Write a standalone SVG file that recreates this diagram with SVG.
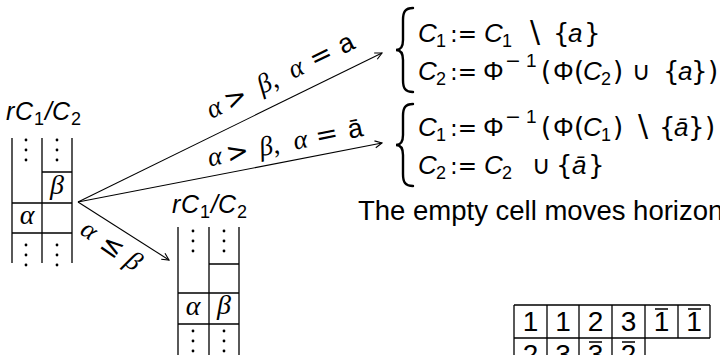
<svg xmlns="http://www.w3.org/2000/svg" width="720" height="355" viewBox="0 0 720 355">
<defs>
<style>
.ln{stroke:#000;stroke-width:1.3;fill:none}
.ar{stroke:#000;stroke-width:1.1;fill:none}
.br{stroke:#000;stroke-width:2.4;fill:none;stroke-linecap:round}
.dot{fill:#000}
text{fill:#000}
.s{font-family:"Liberation Sans",Arial,sans-serif}
.i{font-style:italic}
.n{font-style:normal}
.g{font-family:"Liberation Serif","DejaVu Serif",serif;font-style:italic}
.o{font-family:"DejaVu Sans",sans-serif;font-style:normal}
.as{font-family:"DejaVu Sans",sans-serif;font-style:normal;font-size:23px}
</style>
<marker id="ah" markerWidth="10" markerHeight="10" refX="0" refY="0" viewBox="-9 -5 10 10" orient="auto" markerUnits="userSpaceOnUse"><path d="M-7,-3.5 L0,0 L-7,3.5" fill="none" stroke="#000" stroke-width="1.1"/></marker>
</defs>
<rect width="720" height="355" fill="#fff"/>

<g id="tableau-left">
<text class="s i" font-size="25" y="120"><tspan x="6">r</tspan><tspan x="15">C</tspan><tspan class="n" x="34" y="125" font-size="18">1</tspan><tspan x="45" y="120">/</tspan><tspan x="52">C</tspan><tspan class="n" x="71" y="125" font-size="18">2</tspan></text>
<path class="ln" d="M12,138V263M42,138V263M72,138V263M42,172H72M12,203H72M12,233H72"/>
<g class="dot"><circle cx="26" cy="140" r="1.4"/><circle cx="26" cy="150" r="1.4"/><circle cx="26" cy="160" r="1.4"/><circle cx="57" cy="140" r="1.4"/><circle cx="57" cy="150" r="1.4"/><circle cx="57" cy="160" r="1.4"/><circle cx="26" cy="245" r="1.4"/><circle cx="26" cy="255" r="1.4"/><circle cx="26" cy="265" r="1.4"/><circle cx="57" cy="245" r="1.4"/><circle cx="57" cy="255" r="1.4"/><circle cx="57" cy="265" r="1.4"/></g>
<text class="g" font-size="28" text-anchor="middle"><tspan x="57" y="194">β</tspan><tspan x="27" y="224">α</tspan></text>
</g>

<g id="tableau-lower">
<text class="s i" font-size="25" y="213"><tspan x="172">r</tspan><tspan x="181">C</tspan><tspan class="n" x="200" y="218" font-size="18">1</tspan><tspan x="211" y="213">/</tspan><tspan x="218">C</tspan><tspan class="n" x="237" y="218" font-size="18">2</tspan></text>
<path class="ln" d="M178,227V355M209,227V355M239,227V355M209,264H239M178,293H239M178,324H239"/>
<g class="dot"><circle cx="193" cy="231" r="1.4"/><circle cx="193" cy="241" r="1.4"/><circle cx="193" cy="251" r="1.4"/><circle cx="224" cy="231" r="1.4"/><circle cx="224" cy="241" r="1.4"/><circle cx="224" cy="251" r="1.4"/><circle cx="193" cy="331" r="1.4"/><circle cx="193" cy="341" r="1.4"/><circle cx="193" cy="351" r="1.4"/><circle cx="224" cy="331" r="1.4"/><circle cx="224" cy="341" r="1.4"/><circle cx="224" cy="351" r="1.4"/></g>
<text class="g" font-size="28" text-anchor="middle"><tspan x="193" y="315">α</tspan><tspan x="224" y="314">β</tspan></text>
</g>

<g id="connectors">
<line class="ar" x1="78" y1="202" x2="382" y2="53" marker-end="url(#ah)"/>
<line class="ar" x1="78" y1="202" x2="382" y2="143" marker-end="url(#ah)"/>
<line class="ar" x1="78" y1="202" x2="169" y2="260" marker-end="url(#ah)"/>
<text font-size="27" text-anchor="middle" transform="translate(210.6,119.5) rotate(-26.1)"><tspan class="g" x="8">α</tspan><tspan class="o" x="32">&gt;</tspan><tspan class="g" x="64">β</tspan><tspan class="g" x="74">,</tspan><tspan class="g" x="99">α</tspan><tspan class="o" x="127">=</tspan><tspan class="s" x="155">a</tspan></text>
<text font-size="27" text-anchor="middle" transform="translate(208.7,166.7) rotate(-11.2)"><tspan class="g" x="8">α</tspan><tspan class="o" x="31">&gt;</tspan><tspan class="g" x="60">β</tspan><tspan class="g" x="70">,</tspan><tspan class="g" x="95">α</tspan><tspan class="o" x="122">=</tspan><tspan class="s" x="151">ā</tspan></text>
<text font-size="27" text-anchor="middle" transform="translate(78,232.5) rotate(35)"><tspan class="g" x="8">α</tspan><tspan class="o" x="36">≤</tspan><tspan class="g" x="62">β</tspan></text>
</g>

<g id="case-1">
<path class="br" d="M413,8 C405,8 403,12 403,20 L403,40 C403,47 400,50 396,50 C400,50 403,53 403,60 L403,80 C403,88 405,92 413,92"/>
<text font-size="26" y="42"><tspan class="s i" x="418">C</tspan><tspan class="s" x="436" y="47" font-size="18">1</tspan><tspan class="as" x="450" y="42">:=</tspan><tspan class="s i" x="484">C</tspan><tspan class="s" x="502" y="47" font-size="18">1</tspan><tspan class="o" x="530" y="42" font-size="30">\</tspan><tspan class="o" x="553">{</tspan><tspan class="s i" x="568">a</tspan><tspan class="o" x="584">}</tspan></text>
<text font-size="26" y="80"><tspan class="s i" x="418">C</tspan><tspan class="s" x="436" y="85" font-size="18">2</tspan><tspan class="as" x="450" y="80">:=</tspan><tspan class="s" x="483">Φ</tspan><tspan class="o" x="505" y="67" font-size="19">−</tspan><tspan class="s" x="526" y="67" font-size="19">1</tspan><tspan class="o" x="541" y="80">(</tspan><tspan class="s" x="553">Φ</tspan><tspan class="o" x="574">(</tspan><tspan class="s i" x="583">C</tspan><tspan class="s" x="601" y="85" font-size="18">2</tspan><tspan class="o" x="613" y="80">)</tspan><tspan class="o" x="632">∪</tspan><tspan class="o" x="663">{</tspan><tspan class="s i" x="678">a</tspan><tspan class="o" x="691">}</tspan><tspan class="o" x="708">)</tspan></text>
</g>

<g id="case-2">
<path class="br" d="M413,104 C405,104 403,108 403,116 L403,135 C403,142 400,145 396,145 C400,145 403,148 403,155 L403,174 C403,182 405,186 413,186"/>
<text font-size="26" y="136"><tspan class="s i" x="418">C</tspan><tspan class="s" x="436" y="141" font-size="18">1</tspan><tspan class="as" x="450" y="136">:=</tspan><tspan class="s" x="483">Φ</tspan><tspan class="o" x="505" y="123" font-size="19">−</tspan><tspan class="s" x="526" y="123" font-size="19">1</tspan><tspan class="o" x="541" y="136">(</tspan><tspan class="s" x="553">Φ</tspan><tspan class="o" x="574">(</tspan><tspan class="s i" x="583">C</tspan><tspan class="s" x="601" y="141" font-size="18">1</tspan><tspan class="o" x="613" y="136">)</tspan><tspan class="o" x="638" font-size="30">\</tspan><tspan class="o" x="659">{</tspan><tspan class="s i" x="674">ā</tspan><tspan class="o" x="688">}</tspan><tspan class="o" x="705">)</tspan></text>
<text font-size="26" y="174"><tspan class="s i" x="418">C</tspan><tspan class="s" x="436" y="179" font-size="18">2</tspan><tspan class="as" x="450" y="174">:=</tspan><tspan class="s i" x="484">C</tspan><tspan class="s" x="502" y="179" font-size="18">2</tspan><tspan class="o" x="532" y="174">∪</tspan><tspan class="o" x="556">{</tspan><tspan class="s i" x="572">ā</tspan><tspan class="o" x="588">}</tspan></text>
</g>

<g id="note">
<text class="s" x="358" y="220" font-size="27.5">The empty cell moves horizon</text>
</g>

<g id="tableau-bottom">
<path class="ln" d="M514,305H710M514,338H710M514,305V355M547,305V355M579,305V355M612,305V355M645,305V355M678,305V338M710,305V338"/>
<text class="s" font-size="28" text-anchor="middle"><tspan x="530.5" y="331">1</tspan><tspan x="563" y="331">1</tspan><tspan x="595.5" y="331">2</tspan><tspan x="628.5" y="331">3</tspan><tspan x="661.5" y="331">1</tspan><tspan x="694" y="331">1</tspan><tspan x="530.5" y="364">2</tspan><tspan x="563" y="364">3</tspan><tspan x="595.5" y="364">3</tspan><tspan x="628.5" y="364">2</tspan></text>
<path stroke="#000" stroke-width="1.4" d="M655,309H668M688,309H701M589,342H602M622,342H635"/>
</g>
</svg>
